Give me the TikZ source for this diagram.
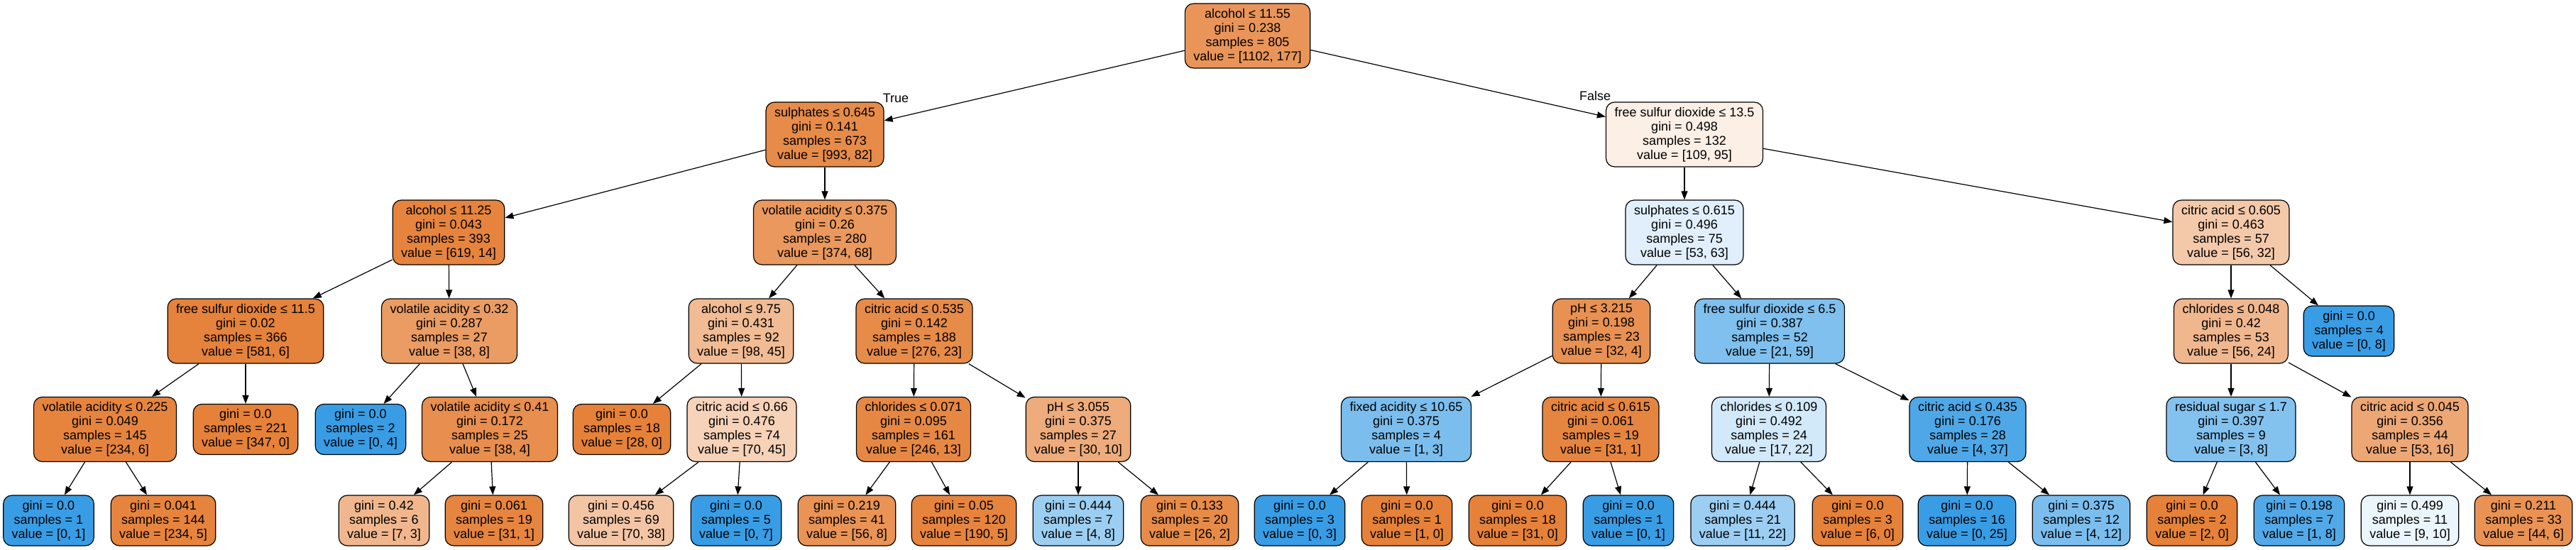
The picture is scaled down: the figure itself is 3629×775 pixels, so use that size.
\documentclass[tikz,border=0pt]{standalone}
\usepackage{fontspec}
\setmainfont{Liberation Sans}
\usetikzlibrary{arrows.meta}
\definecolor{cO}{RGB}{229,129,57}
\definecolor{cB}{RGB}{57,157,229}
\tikzset{
 tn/.style={draw=black,line width=1.2pt,rounded corners=12pt,align=center,inner xsep=12pt,inner ysep=0pt,font=\fontsize{18}{20}\selectfont},
 int/.style={tn,minimum height=91pt},
 leaf/.style={tn,minimum height=71pt},
 fo/.style={fill=cO!#1!white},
 fb/.style={fill=cB!#1!white},
 edge/.style={line width=1.2pt,-{Triangle[length=12pt,width=9pt]}},
 elab/.style={font=\fontsize{18}{20}\selectfont,inner sep=0pt}}
\begin{document}
\begin{tikzpicture}[x=1pt,y=-1pt]
\useasboundingbox (0,0) rectangle (3629,775);
% row 0
\node[int,fo=83.9] (r) at (1757.5,50.5) {alcohol ≤ 11.55\\gini = 0.238\\samples = 805\\value = [1102, 177]};
% row 1
\node[int,fo=91.7] (s645) at (1162,189.5) {sulphates ≤ 0.645\\gini = 0.141\\samples = 673\\value = [993, 82]};
\node[int,fo=12.8] (f135) at (2373,189.5) {free sulfur dioxide ≤ 13.5\\gini = 0.498\\samples = 132\\value = [109, 95]};
% row 2
\node[int,fo=97.7] (a1125) at (632,327.5) {alcohol ≤ 11.25\\gini = 0.043\\samples = 393\\value = [619, 14]};
\node[int,fo=81.8] (v375) at (1162,327.5) {volatile acidity ≤ 0.375\\gini = 0.26\\samples = 280\\value = [374, 68]};
\node[int,fb=15.9] (s615) at (2373,327.5) {sulphates ≤ 0.615\\gini = 0.496\\samples = 75\\value = [53, 63]};
\node[int,fo=42.9] (c605) at (3143,327.5) {citric acid ≤ 0.605\\gini = 0.463\\samples = 57\\value = [56, 32]};
% row 3
\node[int,fo=99.0] (f115) at (346,466.5) {free sulfur dioxide ≤ 11.5\\gini = 0.02\\samples = 366\\value = [581, 6]};
\node[int,fo=78.9] (v32) at (633,466.5) {volatile acidity ≤ 0.32\\gini = 0.287\\samples = 27\\value = [38, 8]};
\node[int,fo=54.1] (a975) at (1044,466.5) {alcohol ≤ 9.75\\gini = 0.431\\samples = 92\\value = [98, 45]};
\node[int,fo=91.7] (c535) at (1288,466.5) {citric acid ≤ 0.535\\gini = 0.142\\samples = 188\\value = [276, 23]};
\node[int,fo=87.5] (p3215) at (2256,466.5) {pH ≤ 3.215\\gini = 0.198\\samples = 23\\value = [32, 4]};
\node[int,fb=64.4] (f65) at (2493,466.5) {free sulfur dioxide ≤ 6.5\\gini = 0.387\\samples = 52\\value = [21, 59]};
\node[int,fo=57.1] (c048) at (3143,466.5) {chlorides ≤ 0.048\\gini = 0.42\\samples = 53\\value = [56, 24]};
\node[leaf,fb=100] (l4) at (3309,466.5) {gini = 0.0\\samples = 4\\value = [0, 8]};
% row 4
\node[int,fo=97.4] (v225) at (148,605) {volatile acidity ≤ 0.225\\gini = 0.049\\samples = 145\\value = [234, 6]};
\node[leaf,fo=100] (l221) at (346,605) {gini = 0.0\\samples = 221\\value = [347, 0]};
\node[leaf,fb=100] (l2) at (508,605) {gini = 0.0\\samples = 2\\value = [0, 4]};
\node[int,fo=89.5] (v41) at (690,605) {volatile acidity ≤ 0.41\\gini = 0.172\\samples = 25\\value = [38, 4]};
\node[leaf,fo=100] (l18) at (876,605) {gini = 0.0\\samples = 18\\value = [28, 0]};
\node[int,fo=35.7] (c66) at (1045,605) {citric acid ≤ 0.66\\gini = 0.476\\samples = 74\\value = [70, 45]};
\node[int,fo=94.7] (c071) at (1287,605) {chlorides ≤ 0.071\\gini = 0.095\\samples = 161\\value = [246, 13]};
\node[int,fo=66.7] (p3055) at (1519,605) {pH ≤ 3.055\\gini = 0.375\\samples = 27\\value = [30, 10]};
\node[int,fb=66.7] (fa) at (1981,605) {fixed acidity ≤ 10.65\\gini = 0.375\\samples = 4\\value = [1, 3]};
\node[int,fo=96.8] (c615) at (2255,605) {citric acid ≤ 0.615\\gini = 0.061\\samples = 19\\value = [31, 1]};
\node[int,fb=22.7] (c109) at (2492,605) {chlorides ≤ 0.109\\gini = 0.492\\samples = 24\\value = [17, 22]};
\node[int,fb=89.2] (c435) at (2772,605) {citric acid ≤ 0.435\\gini = 0.176\\samples = 28\\value = [4, 37]};
\node[int,fb=62.5] (rs) at (3143,605) {residual sugar ≤ 1.7\\gini = 0.397\\samples = 9\\value = [3, 8]};
\node[int,fo=69.8] (c045) at (3395,605) {citric acid ≤ 0.045\\gini = 0.356\\samples = 44\\value = [53, 16]};
% row 5
\node[leaf,fb=100] (z1) at (68.5,733.5) {gini = 0.0\\samples = 1\\value = [0, 1]};
\node[leaf,fo=97.9] (z2) at (230,733.5) {gini = 0.041\\samples = 144\\value = [234, 5]};
\node[leaf,fo=57.1] (z3) at (541,733.5) {gini = 0.42\\samples = 6\\value = [7, 3]};
\node[leaf,fo=96.8] (z4) at (696,733.5) {gini = 0.061\\samples = 19\\value = [31, 1]};
\node[leaf,fo=45.7] (z5) at (875,733.5) {gini = 0.456\\samples = 69\\value = [70, 38]};
\node[leaf,fb=100] (z6) at (1037,733.5) {gini = 0.0\\samples = 5\\value = [0, 7]};
\node[leaf,fo=85.7] (z7) at (1193,733.5) {gini = 0.219\\samples = 41\\value = [56, 8]};
\node[leaf,fo=97.4] (z8) at (1358,733.5) {gini = 0.05\\samples = 120\\value = [190, 5]};
\node[leaf,fb=50] (z9) at (1519,733.5) {gini = 0.444\\samples = 7\\value = [4, 8]};
\node[leaf,fo=92.3] (z10) at (1676,733.5) {gini = 0.133\\samples = 20\\value = [26, 2]};
\node[leaf,fb=100] (z11) at (1831,733.5) {gini = 0.0\\samples = 3\\value = [0, 3]};
\node[leaf,fo=100] (z12) at (1982,733.5) {gini = 0.0\\samples = 1\\value = [1, 0]};
\node[leaf,fo=100] (z13) at (2138,733.5) {gini = 0.0\\samples = 18\\value = [31, 0]};
\node[leaf,fb=100] (z14) at (2294,733.5) {gini = 0.0\\samples = 1\\value = [0, 1]};
\node[leaf,fb=50] (z15) at (2455,733.5) {gini = 0.444\\samples = 21\\value = [11, 22]};
\node[leaf,fo=100] (z16) at (2617,733.5) {gini = 0.0\\samples = 3\\value = [6, 0]};
\node[leaf,fb=100] (z17) at (2771,733.5) {gini = 0.0\\samples = 16\\value = [0, 25]};
\node[leaf,fb=66.7] (z18) at (2932,733.5) {gini = 0.375\\samples = 12\\value = [4, 12]};
\node[leaf,fo=100] (z19) at (3088,733.5) {gini = 0.0\\samples = 2\\value = [2, 0]};
\node[leaf,fb=87.5] (z20) at (3239,733.5) {gini = 0.198\\samples = 7\\value = [1, 8]};
\node[leaf,fb=10] (z21) at (3395,733.5) {gini = 0.499\\samples = 11\\value = [9, 10]};
\node[leaf,fo=86.4] (z22) at (3555,733.5) {gini = 0.211\\samples = 33\\value = [44, 6]};
% edge labels
\node[elab] (tl) at (1262,138) {True};
\node[elab] (fl) at (2247,135) {False};
% edges
\draw[edge] (r) -- (s645);
\draw[edge] (r) -- (f135);
\draw[edge] (s645) -- (a1125);
\draw[edge] (s645) -- (v375);
\draw[edge] (a1125) -- (f115);
\draw[edge] (a1125) -- (v32);
\draw[edge] (f115) -- (v225);
\draw[edge] (f115) -- (l221);
\draw[edge] (v225) -- (z1);
\draw[edge] (v225) -- (z2);
\draw[edge] (v32) -- (l2);
\draw[edge] (v32) -- (v41);
\draw[edge] (v41) -- (z3);
\draw[edge] (v41) -- (z4);
\draw[edge] (v375) -- (a975);
\draw[edge] (v375) -- (c535);
\draw[edge] (a975) -- (l18);
\draw[edge] (a975) -- (c66);
\draw[edge] (c66) -- (z5);
\draw[edge] (c66) -- (z6);
\draw[edge] (c535) -- (c071);
\draw[edge] (c535) -- (p3055);
\draw[edge] (c071) -- (z7);
\draw[edge] (c071) -- (z8);
\draw[edge] (p3055) -- (z9);
\draw[edge] (p3055) -- (z10);
\draw[edge] (f135) -- (s615);
\draw[edge] (f135) -- (c605);
\draw[edge] (s615) -- (p3215);
\draw[edge] (s615) -- (f65);
\draw[edge] (p3215) -- (fa);
\draw[edge] (p3215) -- (c615);
\draw[edge] (fa) -- (z11);
\draw[edge] (fa) -- (z12);
\draw[edge] (c615) -- (z13);
\draw[edge] (c615) -- (z14);
\draw[edge] (f65) -- (c109);
\draw[edge] (f65) -- (c435);
\draw[edge] (c109) -- (z15);
\draw[edge] (c109) -- (z16);
\draw[edge] (c435) -- (z17);
\draw[edge] (c435) -- (z18);
\draw[edge] (c605) -- (c048);
\draw[edge] (c605) -- (l4);
\draw[edge] (c048) -- (rs);
\draw[edge] (c048) -- (c045);
\draw[edge] (rs) -- (z19);
\draw[edge] (rs) -- (z20);
\draw[edge] (c045) -- (z21);
\draw[edge] (c045) -- (z22);
\end{tikzpicture}
\end{document}
